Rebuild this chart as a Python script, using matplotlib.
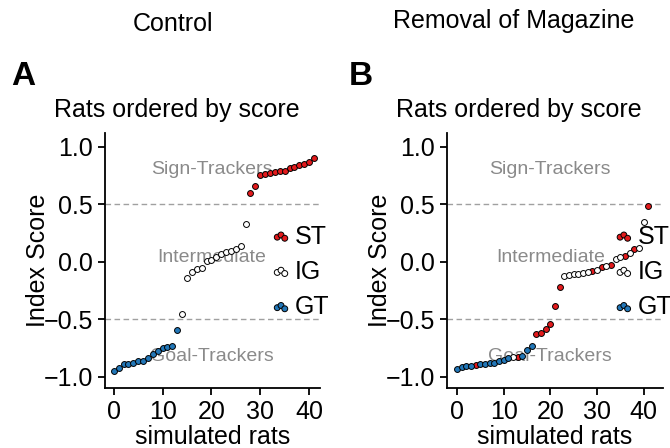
import numpy as np
import matplotlib
matplotlib.use("Agg")
import matplotlib.pyplot as plt

plt.rcParams['font.family'] = ['Liberation Sans', 'DejaVu Sans']

# Control: scores sorted, groups in order GT / IG / ST
control_scores = [
    -0.945, -0.919, -0.890, -0.887, -0.878, -0.860, -0.858, -0.837, -0.797, -0.773,
    -0.750, -0.738, -0.735, -0.593,
    -0.456, -0.138, -0.091, -0.062, -0.050, 0.012, 0.018, 0.044, 0.068, 0.082,
    0.094, 0.112, 0.141, 0.326,
    0.603, 0.656, 0.753, 0.762, 0.774, 0.782, 0.788, 0.791, 0.820, 0.826,
    0.844, 0.853, 0.871, 0.900,
]
control_groups = ['GT'] * 14 + ['IG'] * 14 + ['ST'] * 14

# Removal of magazine: sorted scores, colored by the control group of each rat
removal_scores = [
    -0.927, -0.916, -0.907, -0.901, -0.892, -0.890, -0.890, -0.878, -0.875, -0.858,
    -0.855, -0.837, -0.828, -0.828, -0.820, -0.765, -0.727, -0.628, -0.616, -0.584,
    -0.538, -0.387, -0.221, -0.121, -0.112, -0.106, -0.106, -0.100, -0.085, -0.076,
    -0.071, -0.044, -0.035, -0.024, 0.026, 0.041, 0.047, 0.076, 0.112, 0.124,
    0.347, 0.485,
]
removal_groups = [
    'GT', 'GT', 'GT', 'GT', 'ST', 'GT', 'GT', 'GT', 'GT', 'GT',
    'GT', 'GT', 'IG', 'ST', 'GT', 'GT', 'GT', 'ST', 'ST', 'ST',
    'ST', 'ST', 'ST', 'IG', 'IG', 'IG', 'IG', 'IG', 'IG', 'ST',
    'IG', 'ST', 'IG', 'ST', 'IG', 'IG', 'ST', 'IG', 'ST', 'IG',
    'IG', 'ST',
]

group_colors = {'ST': '#e31a1c', 'IG': 'white', 'GT': '#2277b8'}
region_labels = ['Sign-Trackers', 'Intermediate', 'Goal-Trackers']
region_y = [0.80, 0.04, -0.82]

fig = plt.figure(figsize=(6.7, 4.48), dpi=100)
ax_a = fig.add_axes([0.156, 0.134, 0.322, 0.569])
ax_b = fig.add_axes([0.667, 0.134, 0.323, 0.569])


def draw_panel(ax, scores, groups, xlim):
    scores = np.asarray(scores)
    groups = np.asarray(groups)
    x = np.arange(len(scores))
    for g in ['ST', 'IG', 'GT']:
        m = groups == g
        ax.scatter(x[m], scores[m], s=18, c=group_colors[g],
                   edgecolors='black', linewidths=0.7, label=g, zorder=3)
    for yv in (0.5, -0.5):
        ax.axhline(yv, color='#a0a0a0', lw=1.0, ls=(0, (4, 2.5)), zorder=1)
    for lab, yv in zip(region_labels, region_y):
        ax.text(20, yv, lab, color='#8a8a8a', fontsize=14,
                ha='center', va='center', zorder=2)

    ax.set_xlim(*xlim)
    ax.set_ylim(-1.096, 1.12)
    ax.set_xticks([0, 10, 20, 30, 40])
    ax.set_yticks([-1.0, -0.5, 0.0, 0.5, 1.0])
    ax.set_yticklabels(['\u22121.0', '\u22120.5', '0.0', '0.5', '1.0'])
    for side in ('top', 'right'):
        ax.spines[side].set_visible(False)
    for side in ('left', 'bottom'):
        ax.spines[side].set_linewidth(1.3)
    ax.tick_params(labelsize=18, width=1.3, length=5)
    ax.set_xlabel('simulated rats', fontsize=18, labelpad=1)
    ax.set_ylabel('Index Score', fontsize=18, labelpad=-4.5)

    ax.legend(loc='center left', bbox_to_anchor=(0.708, 0.455), frameon=False,
              fontsize=18, scatterpoints=3, handlelength=0.9,
              handletextpad=0.1, labelspacing=0.45, borderpad=0)


draw_panel(ax_a, control_scores, control_groups, (-1.9, 42.3))
draw_panel(ax_b, removal_scores, removal_groups, (-2.14, 44.2))

fig.text(173 / 670, 1 - 31 / 448, 'Control', fontsize=18, ha='center', va='baseline')
fig.text(514 / 670, 1 - 28 / 448, 'Removal of Magazine', fontsize=18, ha='center', va='baseline')
fig.text(11 / 670, 1 - 85 / 448, 'A', fontsize=24, fontweight='bold', va='baseline')
fig.text(349 / 670, 1 - 85 / 448, 'B', fontsize=24, fontweight='bold', va='baseline')
fig.text(177 / 670, 1 - 117 / 448, 'Rats ordered by score', fontsize=18, ha='center', va='baseline')
fig.text(519 / 670, 1 - 117 / 448, 'Rats ordered by score', fontsize=18, ha='center', va='baseline')

fig.savefig('out.png', dpi=100)
